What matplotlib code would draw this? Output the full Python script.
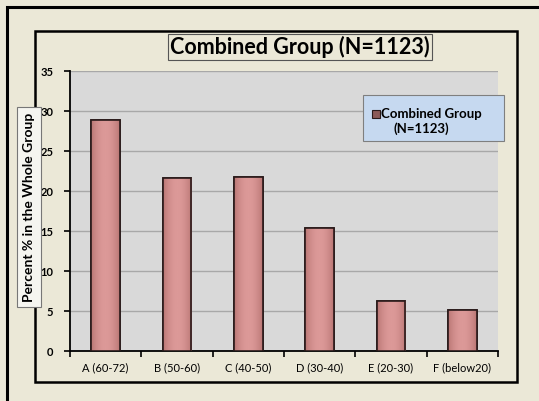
import matplotlib.pyplot as plt
import numpy as np
from matplotlib.patches import Rectangle
from matplotlib.colors import LinearSegmentedColormap

plt.rcParams['font.family'] = ['Lato', 'DejaVu Sans']

# grades and share of the whole group (%)
categories = ['A (60-72)', 'B (50-60)', 'C (40-50)', 'D (30-40)', 'E (20-30)', 'F (below20)']
percent = [28.9, 21.6, 21.75, 15.4, 6.25, 5.1]
series_line1 = 'Combined Group'
series_line2 = '(N=1123)'
title = 'Combined Group (N=1123)'
ylabel = 'Percent % in the Whole Group'

W, H = 539, 401
bg = '#ebe8d7'
fig = plt.figure(figsize=(W / 100, H / 100), dpi=100, facecolor=bg)

def fx(px):
    return px / W

def fy(py):
    return 1 - py / H

# outer border and chart frame
fig.patches.append(Rectangle((fx(7), fy(H + 5)), fx(W), fy(7) - fy(H + 5),
                             transform=fig.transFigure, fill=False,
                             edgecolor='black', linewidth=2.2, zorder=-2))
fig.patches.append(Rectangle((fx(35), fy(382)), fx(517) - fx(35), fy(31) - fy(382),
                             transform=fig.transFigure, facecolor=bg,
                             edgecolor='black', linewidth=1.8, zorder=-1))

ax = fig.add_axes([fx(70), fy(351), fx(498) - fx(70), fy(71) - fy(351)])
ax.set_facecolor('#d9d9d9')
x = np.arange(len(categories))
bars = ax.bar(x, percent, width=0.4, color='#d99492', edgecolor='#2a1a1a',
              linewidth=1.2, zorder=3)

# soft horizontal shading on each bar
shade = np.abs(np.linspace(-1, 1, 64)) ** 2
grad = np.vstack([shade, shade])
bar_cmap = LinearSegmentedColormap.from_list('bar', ['#dc9998', '#b97674'])
for b in bars:
    x0, w, h = b.get_x(), b.get_width(), b.get_height()
    im = ax.imshow(grad, extent=[x0, x0 + w, 0, h], aspect='auto', cmap=bar_cmap,
                   zorder=3.5, interpolation='bilinear')
    im.set_clip_path(b)
    ax.add_patch(Rectangle((x0, 0), w, h, fill=False, edgecolor='#2a1a1a',
                           linewidth=1.2, zorder=4))

ax.set_xlim(-0.5, len(categories) - 0.5)
ax.set_ylim(0, 35)
ax.set_yticks(range(0, 36, 5))
ax.yaxis.grid(True, color='#a8a8a8', linewidth=1.0, zorder=0)
ax.set_axisbelow(True)

ax.set_xticks(np.arange(-0.5, len(categories), 1))
ax.set_xticklabels([])
ax.set_xticks(x, minor=True)
ax.set_xticklabels(categories, minor=True, fontsize=8)
ax.tick_params(axis='x', which='minor', length=0, pad=8)
ax.tick_params(axis='x', which='major', length=4, width=1.2, direction='out')
ax.tick_params(axis='y', length=4, width=1.2, direction='out', labelsize=8, pad=8)
for lab in ax.get_yticklabels():
    lab.set_fontweight('bold')

for side in ['top', 'right']:
    ax.spines[side].set_visible(False)
for side in ['left', 'bottom']:
    ax.spines[side].set_linewidth(1.3)
    ax.spines[side].set_color('black')

# title in its own box
fig.text(fx(300), fy(47), title, ha='center', va='center', fontsize=15.5,
         fontweight='bold',
         bbox=dict(boxstyle='square,pad=0.1', facecolor=bg, edgecolor='#555555',
                   linewidth=0.8))

# y-axis label box
fig.text(fx(29), fy(207), ylabel, rotation=90, ha='center', va='center',
         fontsize=10, fontweight='bold',
         bbox=dict(boxstyle='square,pad=0.4', facecolor='#f5f5f0',
                   edgecolor='#777777', linewidth=0.8))

# legend box
fig.patches.append(Rectangle((fx(363), fy(141)), fx(504) - fx(363), fy(95) - fy(141),
                             transform=fig.transFigure, facecolor='#c6d9f0',
                             edgecolor='#7f7f7f', linewidth=0.8, zorder=5))
fig.patches.append(Rectangle((fx(372), fy(118)), fx(8), fy(0) - fy(8),
                             transform=fig.transFigure, facecolor='#8c5a58',
                             edgecolor='#2a1a1a', linewidth=0.8, zorder=6))
fig.text(fx(381), fy(114), series_line1, ha='left', va='center', fontsize=9.5,
         fontweight='bold', zorder=7)
fig.text(fx(393), fy(129), series_line2, ha='left', va='center', fontsize=9.5,
         fontweight='bold', zorder=7)

fig.savefig('out.png', dpi=100, facecolor=bg)
